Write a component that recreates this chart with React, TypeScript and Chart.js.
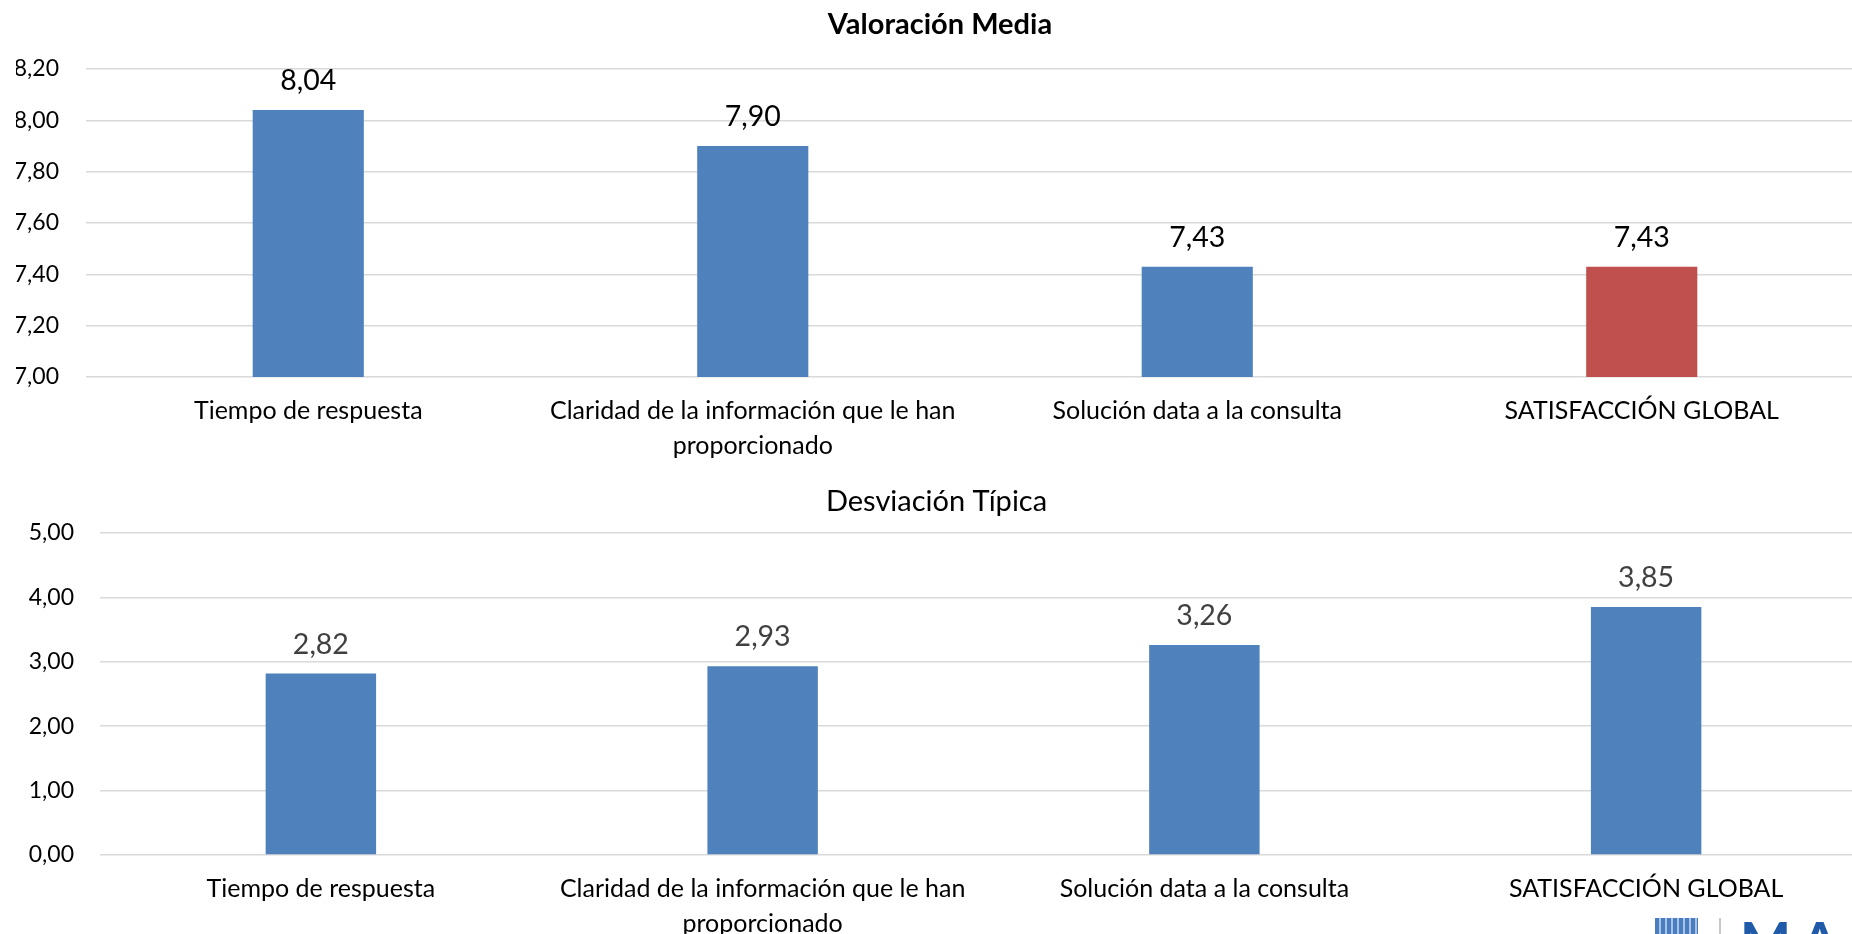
import React, { useEffect, useRef } from 'react';
import { Chart, registerables } from 'chart.js';

Chart.register(...registerables);

const categories: string[][] = [
  ['Tiempo de respuesta'],
  ['Claridad de la información que le han', 'proporcionado'],
  ['Solución data a la consulta'],
  ['SATISFACCIÓN GLOBAL'],
];

const mediaTitle = 'Valoración Media';
const mediaValues = [8.04, 7.9, 7.43, 7.43];
const mediaColors = ['#4F81BD', '#4F81BD', '#4F81BD', '#C0504D'];
const mediaTickMin = 7;
const mediaTickMax = 8.2;
const mediaTickStep = 0.2;

const desvTitle = 'Desviación Típica';
const desvValues = [2.82, 2.93, 3.26, 3.85];
const desvColors = ['#4F81BD', '#4F81BD', '#4F81BD', '#4F81BD'];
const desvTickMin = 0;
const desvTickMax = 5;
const desvTickStep = 1;

const FONT = "Lato, 'Open Sans', 'Noto Sans', sans-serif";

const fmt = (v: number) => v.toFixed(2).replace('.', ',');

type BoxProps = {
  width: number;
  height: number;
  top: number;
  title: string;
  titleBold: boolean;
  titleSize: number;
  titlePadTop: number;
  titlePadBottom: number;
  values: number[];
  colors: string[];
  min: number;
  max: number;
  step: number;
  yWidth: number;
  yPad: number;
  xHeight: number;
  padLeft: number;
  padRight: number;
  labelColor: string;
};

function ChartBox(p: BoxProps) {
  const ref = useRef<HTMLCanvasElement | null>(null);
  useEffect(() => {
    if (!ref.current) return;
    const labelPlugin = {
      id: 'valueLabels',
      afterDatasetsDraw(chart: any) {
        const ctx = chart.ctx;
        const meta = chart.getDatasetMeta(0);
        ctx.save();
        ctx.fillStyle = p.labelColor;
        ctx.font = `28.5px ${FONT}`;
        ctx.textAlign = 'center';
        ctx.textBaseline = 'middle';
        meta.data.forEach((bar: any, i: number) => {
          const v = chart.data.datasets[0].data[i] as number;
          ctx.fillText(fmt(v), bar.x, bar.y - 29);
        });
        ctx.restore();
      },
    };
    const chart = new Chart(ref.current, {
      type: 'bar',
      data: {
        labels: categories,
        datasets: [
          {
            data: p.values,
            backgroundColor: p.colors,
            borderWidth: 0,
            barPercentage: 0.25,
            categoryPercentage: 1,
          },
        ],
      },
      options: {
        responsive: false,
        animation: false,
        layout: { padding: { left: p.padLeft, right: p.padRight, top: 0, bottom: 0 } },
        plugins: {
          legend: { display: false },
          tooltip: { enabled: false },
          title: {
            display: true,
            text: p.title,
            color: '#000000',
            font: { family: FONT, size: p.titleSize, weight: p.titleBold ? 'bold' : 'normal', lineHeight: 1.2 },
            padding: { top: p.titlePadTop, bottom: p.titlePadBottom },
          },
        },
        scales: {
          x: {
            grid: { display: false, drawTicks: false },
            border: { display: false },
            ticks: {
              color: '#000000',
              padding: 17,
              maxRotation: 0,
              autoSkip: false,
              font: { family: FONT, size: 25, lineHeight: 1.38 },
            },
            afterFit(scale: any) {
              scale.height = p.xHeight;
            },
          },
          y: {
            min: p.min,
            max: p.max,
            grid: { color: '#D9D9D9', lineWidth: 1.6, drawTicks: false },
            border: { display: false },
            ticks: {
              stepSize: p.step,
              color: '#000000',
              padding: p.yPad,
              font: { family: FONT, size: 23 },
              callback: (v: any) => fmt(Number(v)),
            },
            afterFit(scale: any) {
              scale.width = p.yWidth;
            },
          },
        },
      },
      plugins: [labelPlugin],
    });
    return () => chart.destroy();
  }, []);
  return (
    <canvas
      ref={ref}
      width={p.width}
      height={p.height}
      style={{ position: 'absolute', left: 0, top: p.top, width: p.width, height: p.height }}
    />
  );
}

export default function App() {
  const titleH = 29 * 1.2;
  const desvH = 29 * 1.2;
  return (
    <div
      style={{
        position: 'fixed',
        left: 0,
        top: 0,
        width: 1852,
        height: 934,
        overflow: 'hidden',
        background: '#ffffff',
      }}
    >
      <ChartBox
        width={1880}
        height={470}
        top={0}
        title={mediaTitle}
        titleBold={true}
        titleSize={29}
        titlePadTop={25 - titleH / 2}
        titlePadBottom={69 - (25 + titleH / 2)}
        values={mediaValues}
        colors={mediaColors}
        min={mediaTickMin}
        max={mediaTickMax}
        step={mediaTickStep}
        yWidth={70}
        yPad={27}
        xHeight={93}
        padLeft={16}
        padRight={16}
        labelColor="#000000"
      />
      <ChartBox
        width={1872}
        height={464}
        top={470}
        title={desvTitle}
        titleBold={false}
        titleSize={29}
        titlePadTop={32 - desvH / 2}
        titlePadBottom={63 - (32 + desvH / 2)}
        values={desvValues}
        colors={desvColors}
        min={desvTickMin}
        max={desvTickMax}
        step={desvTickStep}
        yWidth={94}
        yPad={26}
        xHeight={79}
        padLeft={6}
        padRight={5}
        labelColor="#404040"
      />
      <div
        style={{
          position: 'absolute',
          left: 1655,
          top: 918,
          width: 43,
          height: 16,
          background:
            'repeating-linear-gradient(90deg, #4A7CC0 0px, #4A7CC0 4px, #A9C3E6 4px, #A9C3E6 6px)',
        }}
      />
      <div
        style={{
          position: 'absolute',
          left: 1719,
          top: 918,
          width: 2,
          height: 20,
          background: '#c8c8c8',
        }}
      />
      <div
        style={{
          position: 'absolute',
          left: 1740,
          top: 914,
          fontFamily: FONT,
          fontWeight: 'bold',
          fontSize: 54,
          lineHeight: '54px',
          letterSpacing: 10,
          color: '#1F5BA8',
          whiteSpace: 'nowrap',
        }}
      >
        MADRID
      </div>
    </div>
  );
}
